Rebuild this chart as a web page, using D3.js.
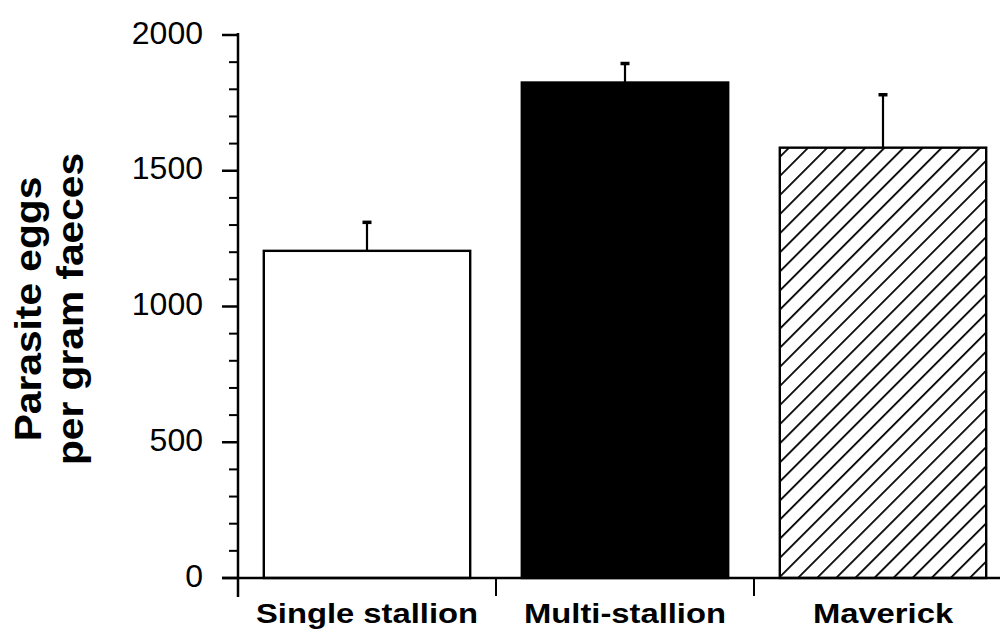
<!DOCTYPE html>
<html>
<head>
<meta charset="utf-8">
<script src="https://cdn.jsdelivr.net/npm/d3@7"></script>
<style>
  html, body { margin: 0; padding: 0; background: #fff; }
  svg { display: block; }
  text { font-family: "Liberation Sans", Arial, Helvetica, sans-serif; fill: #000; }
</style>
</head>
<body>
<svg id="chart" width="1005" height="635"></svg>
<script>
// Group categories and mean egg counts with their standard errors
const groups = ["Single stallion", "Multi-stallion", "Maverick"];
const means = [1205, 1825, 1585];
const errors = [105, 70, 195];
const fills = ["white", "black", "hatch"];
const yTicks = [0, 500, 1000, 1500, 2000];
const yTitleLines = ["Parasite eggs", "per gram faeces"];

const svg = d3.select("#chart");

const x = d3.scaleBand()
  .domain(groups)
  .range([238, 1012])
  .paddingInner(0.2)
  .paddingOuter(0.1);

const y = d3.scaleLinear()
  .domain([0, 2000])
  .range([578, 35]);

// Diagonal hatching (rising to the right) for the third bar
const defs = svg.append("defs");
const pat = defs.append("pattern")
  .attr("id", "hatch")
  .attr("patternUnits", "userSpaceOnUse")
  .attr("width", 13.5)
  .attr("height", 13.5)
  .attr("patternTransform", "rotate(45)");
pat.append("rect").attr("width", 13.5).attr("height", 13.5).attr("fill", "white");
pat.append("line")
  .attr("x1", 0).attr("y1", 0).attr("x2", 0).attr("y2", 13.5)
  .attr("stroke", "black").attr("stroke-width", 3.6);

const data = groups.map((g, i) => ({ g, mean: means[i], se: errors[i], fill: fills[i] }));

// Bars
svg.append("g").selectAll("rect")
  .data(data)
  .join("rect")
  .attr("x", d => x(d.g))
  .attr("y", d => y(d.mean))
  .attr("width", x.bandwidth())
  .attr("height", d => y(0) - y(d.mean))
  .attr("fill", d => d.fill === "hatch" ? "url(#hatch)" : d.fill)
  .attr("stroke", "black")
  .attr("stroke-width", 2.4);

// Upper error bars
const eb = svg.append("g").attr("stroke", "black");
eb.selectAll("line.stem")
  .data(data)
  .join("line")
  .attr("class", "stem")
  .attr("x1", d => x(d.g) + x.bandwidth() / 2)
  .attr("x2", d => x(d.g) + x.bandwidth() / 2)
  .attr("y1", d => y(d.mean))
  .attr("y2", d => y(d.mean + d.se))
  .attr("stroke-width", 2.2);
eb.selectAll("line.cap")
  .data(data)
  .join("line")
  .attr("class", "cap")
  .attr("x1", d => x(d.g) + x.bandwidth() / 2 - 4.5)
  .attr("x2", d => x(d.g) + x.bandwidth() / 2 + 4.5)
  .attr("y1", d => y(d.mean + d.se))
  .attr("y2", d => y(d.mean + d.se))
  .attr("stroke-width", 3.5);

// Y axis with major and minor ticks
const axisX = 238;
const yAxis = svg.append("g");
yAxis.append("line")
  .attr("x1", axisX).attr("x2", axisX)
  .attr("y1", y(2000) - 2).attr("y2", 597)
  .attr("stroke", "black").attr("stroke-width", 2.5);
yAxis.selectAll("line.minor")
  .data(d3.range(0, 2001, 100).filter(v => v % 500 !== 0))
  .join("line")
  .attr("class", "minor")
  .attr("x1", axisX - 9).attr("x2", axisX)
  .attr("y1", d => y(d)).attr("y2", d => y(d))
  .attr("stroke", "black").attr("stroke-width", 2);
yAxis.selectAll("line.major")
  .data(yTicks)
  .join("line")
  .attr("class", "major")
  .attr("x1", axisX - 16).attr("x2", axisX)
  .attr("y1", d => y(d)).attr("y2", d => y(d))
  .attr("stroke", "black").attr("stroke-width", 2.5);
yAxis.selectAll("text")
  .data(yTicks)
  .join("text")
  .attr("x", 203)
  .attr("y", d => y(d) - 3)
  .attr("dy", "0.36em")
  .attr("text-anchor", "end")
  .attr("font-size", 32)
  .text(d => d);

// X axis: baseline with ticks at the category boundaries
const step = x.step();
const xAxis = svg.append("g");
xAxis.append("line")
  .attr("x1", axisX - 16).attr("x2", 1000)
  .attr("y1", y(0)).attr("y2", y(0))
  .attr("stroke", "black").attr("stroke-width", 2.5);
xAxis.selectAll("line.tick")
  .data(groups.slice(1))
  .join("line")
  .attr("class", "tick")
  .attr("x1", d => x(d) - step * 0.1).attr("x2", d => x(d) - step * 0.1)
  .attr("y1", y(0)).attr("y2", 596)
  .attr("stroke", "black").attr("stroke-width", 2);
xAxis.selectAll("text")
  .data(groups)
  .join("text")
  .attr("transform", d => `translate(${x(d) + x.bandwidth() / 2},623) scale(1.17,1)`)
  .attr("text-anchor", "middle")
  .attr("font-size", 28)
  .attr("font-weight", "bold")
  .text(d => d);

// Y axis title, two lines rotated
svg.append("g")
  .attr("transform", "translate(0,309) rotate(-90) scale(1.1,1)")
  .selectAll("text")
  .data(yTitleLines)
  .join("text")
  .attr("x", 0)
  .attr("y", (d, i) => 41 + i * 42)
  .attr("text-anchor", "middle")
  .attr("font-size", 37)
  .attr("font-weight", "bold")
  .text(d => d);
</script>
</body>
</html>
